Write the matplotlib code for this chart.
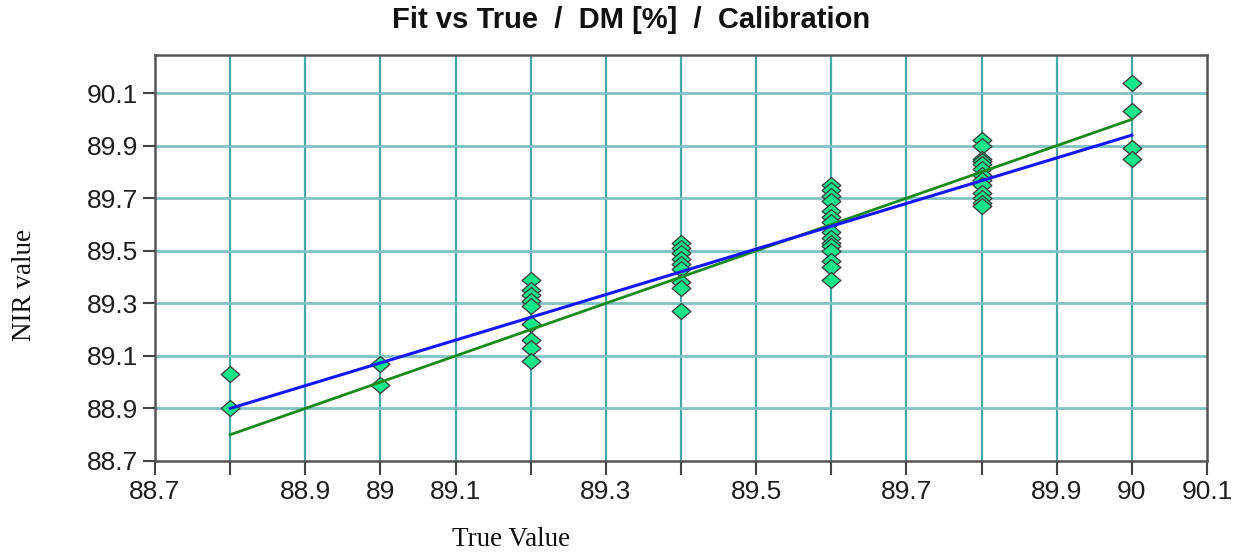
import matplotlib
matplotlib.use("Agg")
import matplotlib.pyplot as plt
import numpy as np
from matplotlib.path import Path

# Reference (true) dry-matter values and the NIR predictions at each level
true_levels = [88.8, 89.0, 89.2, 89.4, 89.6, 89.8, 90.0]
nir_88_8 = [89.03, 88.90]
nir_89_0 = [89.07, 88.99]
nir_89_2 = [89.39, 89.35, 89.33, 89.31, 89.29, 89.22, 89.16, 89.13, 89.08]
nir_89_4 = [89.53, 89.51, 89.49, 89.47, 89.45, 89.43, 89.38, 89.36, 89.27]
nir_89_6 = [89.75, 89.73, 89.71, 89.69, 89.65, 89.63, 89.61, 89.57,
            89.55, 89.53, 89.52, 89.50, 89.46, 89.44, 89.39]
nir_89_8 = [89.92, 89.90, 89.85, 89.84, 89.83, 89.81, 89.79, 89.77,
            89.75, 89.72, 89.70, 89.68, 89.67]
nir_90_0 = [90.14, 90.03, 89.89, 89.85]
nir_groups = [nir_88_8, nir_89_0, nir_89_2, nir_89_4, nir_89_6, nir_89_8, nir_90_0]

# Calibration fit line and 1:1 target line (end points)
fit_x = [88.8, 90.0]
fit_y = [88.90, 89.94]
target_x = [88.8, 90.0]
target_y = [88.8, 90.0]

x_ticks = [88.7, 88.8, 88.9, 89.0, 89.1, 89.2, 89.3, 89.4, 89.5, 89.6,
           89.7, 89.8, 89.9, 90.0, 90.1]
x_tick_labels = ["88.7", "", "88.9", "89", "89.1", "", "89.3", "", "89.5", "",
                 "89.7", "", "89.9", "90", "90.1"]
y_ticks = [88.7, 88.9, 89.1, 89.3, 89.5, 89.7, 89.9, 90.1]
y_tick_labels = ["88.7", "88.9", "89.1", "89.3", "89.5", "89.7", "89.9", "90.1"]

fig = plt.figure(figsize=(12.44, 5.54), dpi=100)
ax = fig.add_axes([155 / 1244, 1 - 461 / 554, (1207 - 155) / 1244, (461 - 55) / 554])

ax.set_xlim(88.7, 90.1)
ax.set_ylim(88.7, 90.245)

# grid
for xv in x_ticks[1:-1]:
    ax.axvline(xv, color="#45a6a6", lw=1.6, zorder=1)
for yv in y_ticks[1:]:
    ax.axhline(yv, color="#7fc2c2", lw=2.0, zorder=1)

# diamond marker, a little wider than tall
diamond = Path([(-1, 0), (0, 0.85), (1, 0), (0, -0.85), (-1, 0)],
               [Path.MOVETO, Path.LINETO, Path.LINETO, Path.LINETO, Path.CLOSEPOLY])

for xv, ys in zip(true_levels, nir_groups):
    ax.plot([xv] * len(ys), ys, linestyle="none", marker=diamond, markersize=13.5,
            markerfacecolor="#14e68a", markeredgecolor="#3a3a3a",
            markeredgewidth=0.9, zorder=3)

ax.plot(target_x, target_y, color="#1a8a1a", lw=2.0, zorder=4)
ax.plot(fit_x, fit_y, color="#1414ff", lw=2.2, zorder=5)

ax.set_xticks(x_ticks)
ax.set_xticklabels(x_tick_labels)
ax.set_yticks(y_ticks)
ax.set_yticklabels(y_tick_labels)

for lab in ax.get_xticklabels() + ax.get_yticklabels():
    lab.set_fontfamily(["Liberation Sans", "DejaVu Sans"])
    lab.set_fontsize(19)
    lab.set_color("#1e1e1e")

ax.tick_params(axis="x", direction="out", length=10, width=1.5, color="#444444", pad=4)
ax.tick_params(axis="y", direction="out", length=9, width=1.5, color="#444444", pad=3)

for side in ["left", "right", "top", "bottom"]:
    ax.spines[side].set_color("#555555")
    ax.spines[side].set_linewidth(1.8)

fig.text(631 / 1244, 1 - 20 / 554, "Fit vs True  /  DM [%]  /  Calibration",
         ha="center", va="center", fontsize=21, fontweight="bold",
         family=["Liberation Sans", "DejaVu Sans"], color="#111111")
fig.text(25 / 1244, 1 - 285 / 554, "NIR value", rotation=90, ha="center", va="center",
         fontsize=19.5, family=["Liberation Serif", "DejaVu Serif"], color="#111111")
fig.text(511 / 1244, 1 - 540 / 554, "True Value", ha="center", va="center",
         fontsize=19.5, family=["Liberation Serif", "DejaVu Serif"], color="#111111")

fig.savefig("out.png", dpi=100)
